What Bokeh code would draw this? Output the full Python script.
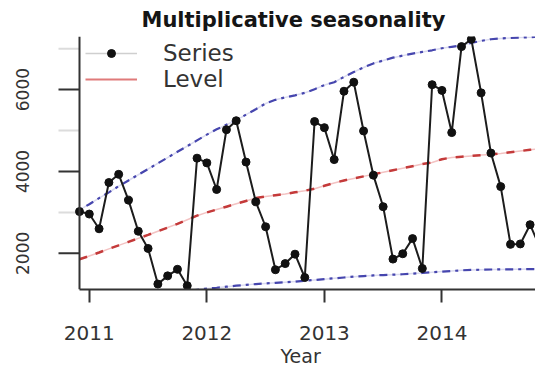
import math
from bokeh.plotting import figure
from bokeh.models import (Range1d, FixedTicker, Legend, LegendItem, ColumnDataSource,
                          Span, Title)
from bokeh.core.properties import value
from bokeh.embed import file_html
from bokeh.resources import INLINE

# ---- data (monthly, starting Dec 2010) ----
start_year = 2010 + 11 / 12
series = [3020, 2960, 2600, 3730, 3930, 3300, 2540, 2120, 1250, 1450, 1610, 1210,
          4325, 4210, 3560, 5020, 5240, 4230, 3260, 2650, 1600, 1750, 1980, 1410,
          5220, 5070, 4290, 5960, 6180, 4990, 3910, 3140, 1860, 1990, 2360, 1630,
          6120, 5980, 4950, 7050, 7230, 5920, 4450, 3630, 2220, 2230, 2700, 2150]
level = [1855, 1935, 2020, 2110, 2195, 2280, 2365, 2450, 2540, 2630, 2720, 2820,
         2920, 3000, 3070, 3140, 3210, 3280, 3350, 3390, 3420, 3450, 3490, 3530,
         3580, 3650, 3720, 3780, 3830, 3880, 3930, 3980, 4030, 4080, 4130, 4180,
         4220, 4300, 4340, 4360, 4380, 4400, 4415, 4440, 4470, 4500, 4530, 4560]
upper = [3060, 3200, 3350, 3490, 3640, 3780, 3920, 4060, 4200, 4340, 4480, 4620,
         4760, 4900, 5030, 5140, 5250, 5390, 5520, 5660, 5750, 5810, 5860, 5920,
         6010, 6110, 6180, 6310, 6430, 6540, 6640, 6710, 6780, 6830, 6880, 6920,
         6960, 7010, 7045, 7080, 7140, 7190, 7230, 7250, 7260, 7270, 7280, 7290]
lower = [650, 690, 730, 770, 810, 850, 890, 930, 970, 1010, 1045, 1080,
         1110, 1140, 1160, 1185, 1210, 1230, 1250, 1265, 1280, 1295, 1310, 1330,
         1350, 1370, 1390, 1410, 1430, 1445, 1460, 1470, 1480, 1490, 1505, 1520,
         1540, 1555, 1570, 1585, 1595, 1600, 1605, 1608, 1610, 1612, 1615, 1618]
year_ticks = [2011, 2012, 2013, 2014]
y_major = [2000, 4000, 6000]
y_minor = [3000, 5000, 7000]
y_major_labels = ["2000", "4000", "6000"]

t = [start_year + i / 12 for i in range(len(series))]
src = ColumnDataSource(dict(t=t, series=series, level=level, upper=upper, lower=lower))

FONT = "DejaVu Sans"

# layout: the data region starts 79 px from the left edge; the y axis is drawn by hand there
W, H = 535, 369
AXIS_PX = 79
x_end = 2014.796
ppy = (W - AXIS_PX) / (x_end - start_year)      # pixels per year
x_start = start_year - AXIS_PX / ppy

p = figure(width=W, height=H, output_backend="svg", toolbar_location=None,
           x_range=Range1d(x_start, x_end), y_range=Range1d(1117, 7297),
           min_border_left=0, min_border_right=0, min_border_top=35, min_border_bottom=80,
           title="Multiplicative seasonality")
p.outline_line_color = None
p.xgrid.visible = False
p.ygrid.visible = False
p.yaxis.visible = False
p.background_fill_color = "white"
p.border_fill_color = "white"

p.title.align = "left"
p.title.offset = 141
p.title.text_font = FONT
p.title.text_font_size = "21px"
p.title.text_font_style = "bold"
p.title.text_color = "#151515"

xa = p.xaxis[0]
xa.bounds = (start_year, x_end)
xa.ticker = FixedTicker(ticks=year_ticks)
xa.axis_line_width = 2
xa.axis_line_color = "#333333"
xa.major_tick_line_width = 2
xa.major_tick_line_color = "#333333"
xa.major_tick_out = 13
xa.major_tick_in = 0
xa.minor_tick_line_color = None
xa.major_label_text_font = FONT
xa.major_label_text_font_size = "20px"
xa.major_label_text_color = "#333333"
xa.major_label_standoff = 23

xlab = Title(text="Year", align="left", offset=280, standoff=0,
             text_font=FONT, text_font_size="19px", text_font_style="normal",
             text_color="#333333")
p.add_layout(xlab, "below")

# hand-drawn y axis at the start of the series
p.add_layout(Span(location=start_year, dimension="height",
                  line_color="#333333", line_width=2))
tick_len = 21 / ppy
p.segment(x0=[start_year - tick_len] * len(y_minor), x1=[start_year] * len(y_minor),
          y0=y_minor, y1=y_minor, line_color="#dcdcdc", line_width=2)
p.segment(x0=[start_year - tick_len] * len(y_major), x1=[start_year] * len(y_major),
          y0=y_major, y1=y_major, line_color="#333333", line_width=2)
p.text(x=[start_year - 57 / ppy] * len(y_major), y=y_major, text=y_major_labels,
       angle=math.pi / 2, text_align="center", text_baseline="middle",
       text_font=value(FONT), text_font_size="17px", text_color="#333333")

# bands
for col in ("upper", "lower"):
    p.line("t", col, source=src, line_color="#dadaf0", line_width=1.5)
    p.line("t", col, source=src, line_color="#4646ae", line_width=2.2, line_dash="3 5 8 5")

# level
p.line("t", "level", source=src, line_color="#f3c2c2", line_width=1.5)
p.line("t", "level", source=src, line_color="#c43a3a", line_width=2.5, line_dash="8 9")

# series
p.line("t", "series", source=src, line_color="#1c1c1c", line_width=2)
p.scatter("t", "series", source=src, size=8, color="#111111", marker="circle")

# legend proxies (one NaN point so the legend glyphs are drawn)
nan = float("nan")
proxy = ColumnDataSource(dict(x=[nan], y=[nan]))
leg_line = p.line("x", "y", source=proxy, line_color="#cfcfcf", line_width=1.5)
leg_pt = p.scatter("x", "y", source=proxy, size=6, color="#111111", marker="circle")
leg_lvl = p.line("x", "y", source=proxy, line_color="#e07a7a", line_width=2)

legend = Legend(items=[LegendItem(label="Series", renderers=[leg_line, leg_pt]),
                       LegendItem(label="Level", renderers=[leg_lvl])],
                location=(AXIS_PX + 6, 197), margin=0, padding=0, spacing=0,
                label_height=20, glyph_height=20, glyph_width=52, label_standoff=26,
                border_line_color=None, background_fill_alpha=0,
                label_text_font=FONT, label_text_font_size="23px",
                label_text_color="#333333")
p.add_layout(legend, "center")

open("out.html", "w").write(file_html(p, INLINE))
